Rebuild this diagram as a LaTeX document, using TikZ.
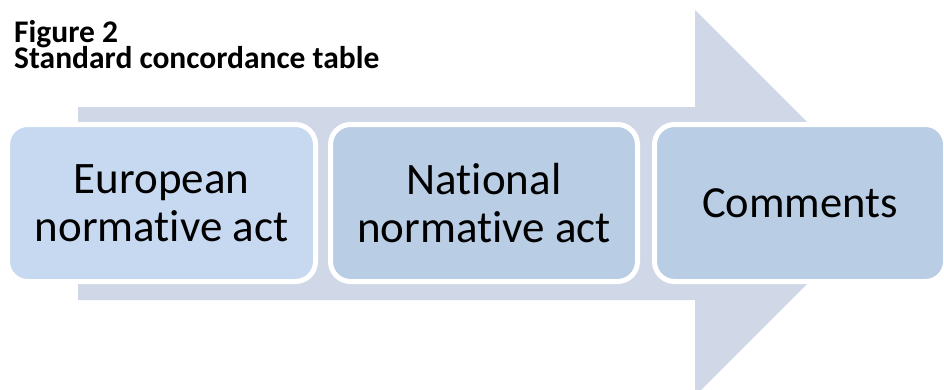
\documentclass[tikz,border=0pt]{standalone}
\usepackage{fontspec}
\setmainfont{Carlito}[RawFeature=-liga]
\definecolor{arrowfill}{RGB}{208,216,232}
\definecolor{boxone}{RGB}{198,217,240}
\definecolor{boxtwo}{RGB}{185,205,228}
\tikzset{
	stepbox/.style={draw=white,line width=5pt,rounded corners=20pt,align=center,
		minimum height=157pt,inner sep=0pt,font=\fontsize{45}{48}\selectfont},
	titletext/.style={anchor=base west,inner sep=0pt,align=left,
		font={\fontsize{31.5}{25.5}\selectfont\bfseries\lineskiplimit -50pt\relax}},
}
\begin{document}
\begin{tikzpicture}[x=1pt,y=-1pt]
	\useasboundingbox (0,0) rectangle (944,389) ;
	\clip (0,0) rectangle (944,389) ;
	% big arrow behind the boxes
	\fill[arrowfill] (78,107) -- (695,107) -- (695,10) -- (888,203) -- (695,396) -- (695,300) -- (78,300) -- cycle ;
	% title
	\node[titletext] (figtitle) at (14,68) {Figure 2\\Standard concordance table} ;
	% the three steps
	\node[stepbox,fill=boxone,minimum width=308pt] (european) at (161.5,203) {European\\normative act} ;
	\node[stepbox,fill=boxtwo,minimum width=307pt] (national) at (484,203) {National\\normative act} ;
	\node[stepbox,fill=boxtwo,minimum width=291pt,font=\fontsize{44.5}{48}\selectfont] (comments) at (800,203) {Comments} ;
\end{tikzpicture}
\end{document}
